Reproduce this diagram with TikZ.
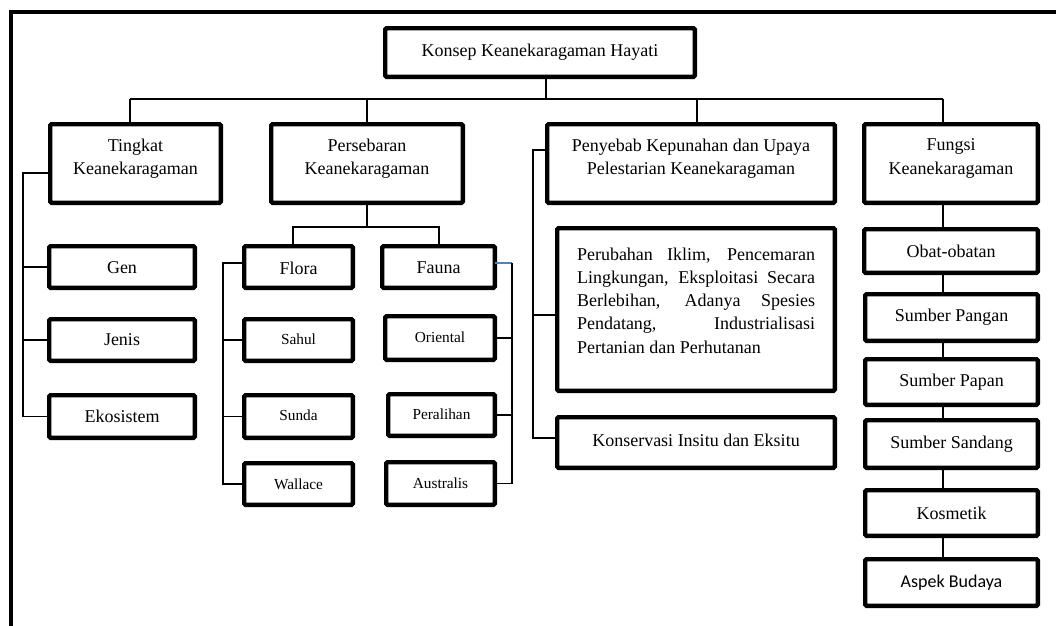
\documentclass[tikz,border=0pt]{standalone}
\usepackage{fontspec}
\setmainfont{Liberation Serif}
\newfontfamily\calibrifont{Carlito}
\usetikzlibrary{calc}
\newcommand\mainsize{\fontsize{13.5}{17.4}\selectfont}
\newcommand\smallsize{\fontsize{11.5}{14}\selectfont}
\tikzset{
  boxx/.style={draw,line width=3.3pt,rounded corners=1pt,inner sep=0pt,outer sep=0pt,fill=white},
  txt/.style={inner sep=0pt,align=center,font=\mainsize},
  smalltxt/.style={font=\smallsize},
  conn/.style={line width=1pt},
  bluec/.style={line width=1pt,draw={rgb,255:red,79;green,129;blue,189}},
  frame/.style={line width=3pt}
}
% \bx{name}{x1}{y1}{x2}{y2}{style}{dy}{text}
\newcommand\bx[8]{%
  \node[boxx,minimum width={((#4)-(#2))*0.75pt-3.3pt},minimum height={((#5)-(#3))*0.75pt-3.3pt}] (#1) at ({((#2)+(#4))/2},{((#3)+(#5))/2}) {};
  \node[txt,#6] (#1-t) at ($(#1.center)+(0,#7)$) {#8};}
\begin{document}
\begin{tikzpicture}[x=0.75pt,y=-0.75pt]
\useasboundingbox (0,0) rectangle (1056,625);
\fill[white] (0,0) rectangle (1056,625);
% outer frame (cropped)
\coordinate (fbl) at (11,640);
\coordinate (ftl) at (11,12);
\coordinate (ftr) at (1070,12);
\draw[frame] (fbl) -- (ftl) -- (ftr);

% boxes
\bx{konsep}{383}{26}{697}{79}{}{0}{Konsep Keanekaragaman Hayati}
\bx{tingkat}{48}{122}{223}{205}{}{-5}{Tingkat\\Keanekaragaman}
\bx{persebaran}{269}{122}{465}{205}{}{-5}{Persebaran\\Keanekaragaman}
\bx{penyebab}{545}{122}{837}{205}{}{-5}{Penyebab Kepunahan dan Upaya\\Pelestarian Keanekaragaman}
\bx{fungsi}{862}{122}{1040}{205}{}{-5}{Fungsi\\Keanekaragaman}

\bx{gen}{47}{244}{197}{290}{}{1}{Gen}
\bx{jenis}{47}{317}{197}{363}{}{0}{Jenis}
\bx{ekosistem}{47}{393}{197}{440}{}{0}{Ekosistem}

\bx{flora}{242}{244}{355}{290}{}{1}{Flora}
\bx{fauna}{380}{244}{497}{290}{}{1}{Fauna}
\bx{sahul}{242}{317}{355}{363}{smalltxt}{-1}{Sahul}
\bx{oriental}{383}{314}{497}{362}{smalltxt}{-1}{Oriental}
\bx{sunda}{242}{393}{355}{440}{smalltxt}{-1}{Sunda}
\bx{peralihan}{386}{392}{497}{438}{smalltxt}{-1}{Peralihan}
\bx{wallace}{242}{461}{355}{507}{smalltxt}{0}{Wallace}
\bx{australis}{384}{460}{497}{507}{smalltxt}{0}{Australis}

\bx{perubahan}{555}{226}{837}{393}{align=left}{-9}{%
\makebox[178.5pt][s]{Perubahan Iklim, Pencemaran}\\
\makebox[178.5pt][s]{Lingkungan, Eksploitasi Secara}\\
\makebox[178.5pt][s]{Berlebihan, Adanya Spesies}\\
\makebox[178.5pt][s]{Pendatang, Industrialisasi}\\
\makebox[178.5pt][l]{Pertanian dan Perhutanan}}
\bx{konservasi}{555}{415}{837}{470}{}{-2}{Konservasi Insitu dan Eksitu}

\bx{obat}{862}{227}{1040}{275}{}{0}{Obat-obatan}
\bx{pangan}{863}{292}{1040}{343}{}{0}{Sumber Pangan}
\bx{papan}{863}{357}{1040}{407}{}{0}{Sumber Papan}
\bx{sandang}{863}{418}{1040}{470}{}{0}{Sumber Sandang}
\bx{kosmetik}{863}{488}{1040}{538}{}{0}{Kosmetik}
\bx{budaya}{863}{557}{1040}{608}{font=\calibrifont\mainsize}{0}{Aspek Budaya}

% top bus
\coordinate (b0) at (546,99);
\coordinate (b1) at (130,99);
\coordinate (b2) at (367,99);
\coordinate (b3) at (697,99);
\coordinate (b4) at (943,99);
\draw[conn] (konsep.south -| b0) -- (b0);
\draw[conn] (b1) -- (b4);
\draw[conn] (b1) -- (b1 |- tingkat.north);
\draw[conn] (b2) -- (b2 |- persebaran.north);
\draw[conn] (b3) -- (b3 |- penyebab.north);
\draw[conn] (b4) -- (b4 |- fungsi.north);

% tingkat branch
\coordinate (tl) at (23,173);
\draw[conn] (tingkat.west |- tl) -- (tl) |- (ekosistem.west);
\draw[conn] (tl |- gen.west) -- (gen.west);
\draw[conn] (tl |- jenis.west) -- (jenis.west);

% persebaran branch
\coordinate (pb) at (367,227);
\coordinate (fl) at (293,227);
\coordinate (fa) at (439,227);
\draw[conn] (persebaran.south) -- (pb);
\draw[conn] (fl |- flora.north) -- (fl) -- (fa) -- (fa |- fauna.north);

% flora
\coordinate (flx) at (223,263);
\draw[conn] (flora.west |- flx) -- (flx) |- (wallace.west);
\draw[conn] (flx |- sahul.west) -- (sahul.west);
\draw[conn] (flx |- sunda.west) -- (sunda.west);

% fauna
\coordinate (fax) at (512,263);
\draw[bluec] (fauna.east |- fax) -- (fax);
\draw[conn] (fax) |- (australis.east);
\draw[conn] (fax |- oriental.east) -- (oriental.east);
\draw[conn] (fax |- peralihan.east) -- (peralihan.east);

% penyebab
\coordinate (pl) at (533,150);
\coordinate (pp) at (533,315);
\coordinate (pk) at (533,438);
\draw[conn] (penyebab.west |- pl) -- (pl) -- (pk) -- (konservasi.west |- pk);
\draw[conn] (pp) -- (perubahan.west |- pp);

% fungsi chain
\coordinate (fx) at (943,0);
\draw[conn] (fungsi.south -| fx) -- (obat.north -| fx);
\draw[conn] (obat.south -| fx) -- (pangan.north -| fx);
\draw[conn] (pangan.south -| fx) -- (papan.north -| fx);
\draw[conn] (papan.south -| fx) -- (sandang.north -| fx);
\draw[conn] (sandang.south -| fx) -- (kosmetik.north -| fx);
\draw[conn] (kosmetik.south -| fx) -- (budaya.north -| fx);
\end{tikzpicture}
\end{document}
